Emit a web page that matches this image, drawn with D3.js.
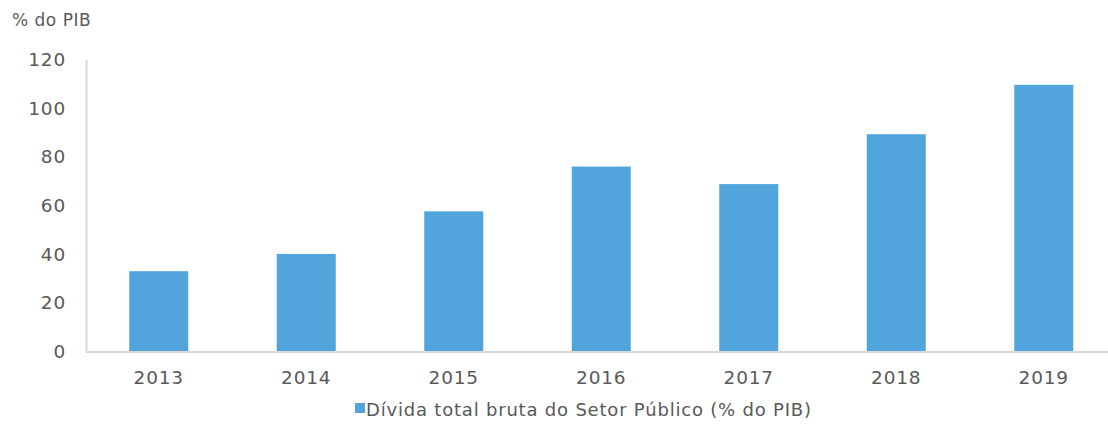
<!DOCTYPE html>
<html>
<head>
<meta charset="utf-8">
<script src="https://cdn.jsdelivr.net/npm/d3@7"></script>
<style>
  html, body { margin: 0; padding: 0; background: #fff; }
  svg text { font-family: "DejaVu Sans", sans-serif; fill: #595959; }
</style>
</head>
<body>
<svg id="chart" width="1108" height="424"></svg>
<script>
// Dívida total bruta do Setor Público, % do PIB
const years = ["2013", "2014", "2015", "2016", "2017", "2018", "2019"];
const debt = [33.0, 40.1, 57.6, 76.0, 68.8, 89.3, 109.6];
const yTicks = [0, 20, 40, 60, 80, 100, 120];
const seriesName = "Dívida total bruta do Setor Público (% do PIB)";
const unitLabel = "% do PIB";

const svg = d3.select("#chart");
const barColor = "#52a5dc";
const axisColor = "#d9d9d9";

const x = d3.scaleBand().domain(years).range([85, 1117.5]).paddingInner(0.6).paddingOuter(0.3);
const y = d3.scaleLinear().domain([0, 120]).range([351.5, 59.5]);

// bars
svg.append("g").selectAll("rect")
  .data(years.map((yr, i) => ({ yr, v: debt[i] })))
  .join("rect")
  .attr("x", d => x(d.yr))
  .attr("y", d => y(d.v))
  .attr("width", x.bandwidth())
  .attr("height", d => y(0) - y(d.v))
  .attr("fill", barColor);

function styleLabels(sel) {
  sel.style("font-size", "18.5px")
    .style("letter-spacing", "0.8px")
    .attr("fill", "#595959")
    .attr("font-family", "DejaVu Sans, sans-serif");
}

// y axis
const yAxis = svg.append("g").attr("transform", "translate(86,0)")
  .call(d3.axisLeft(y).tickValues(yTicks).tickSize(0).tickPadding(20));
yAxis.select(".domain").attr("stroke", axisColor).attr("stroke-width", 2);
styleLabels(yAxis.selectAll("text"));

// x axis baseline and labels
const xAxis = svg.append("g").attr("transform", `translate(0,${y(0)})`)
  .call(d3.axisBottom(x).tickSize(0).tickPadding(19));
xAxis.select(".domain").attr("stroke", axisColor).attr("stroke-width", 2);
styleLabels(xAxis.selectAll("text"));

// unit label
svg.append("text").attr("x", 12).attr("y", 26)
  .style("font-size", "17px").style("letter-spacing", "0.5px").text(unitLabel);

// legend
const lg = svg.append("g").attr("transform", "translate(355,403)");
lg.append("rect").attr("width", 10).attr("height", 10).attr("fill", barColor);
lg.append("text").attr("x", 11).attr("y", 13)
  .style("font-size", "18px").style("letter-spacing", "0.8px").text(seriesName);
</script>
</body>
</html>
